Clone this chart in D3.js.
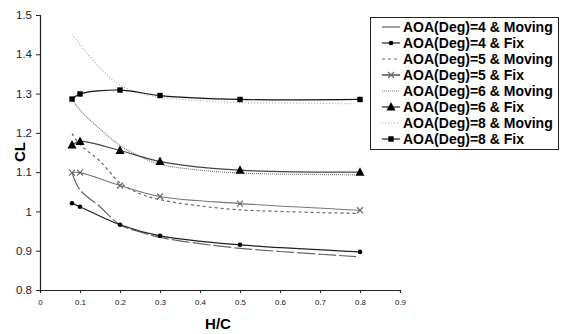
<!DOCTYPE html>
<html>
<head>
<meta charset="utf-8">
<script src="https://cdn.jsdelivr.net/npm/d3@7"></script>
<style>
  body { margin: 0; background: #fff; }
  text { font-family: "Liberation Sans", Arial, sans-serif; }
</style>
</head>
<body>
<svg id="chart" width="563" height="334"></svg>
<script>
// x positions of the measured (Fix) points
var fixX = [0.08, 0.1, 0.2, 0.3, 0.5, 0.8];
var fix4 = [1.021, 1.012, 0.966, 0.938, 0.915, 0.897];
var fix5 = [1.099, 1.099, 1.066, 1.038, 1.02, 1.003];
var fix6 = [1.169, 1.178, 1.155, 1.127, 1.105, 1.10];
var fix8 = [1.286, 1.299, 1.309, 1.295, 1.285, 1.285];

// moving curves
var movX = [0.08, 0.1, 0.15, 0.2, 0.25, 0.3, 0.4, 0.5, 0.6, 0.7, 0.79];
var mov4 = [1.098, 1.055, 1.012, 0.966, 0.948, 0.934, 0.918, 0.906, 0.898, 0.891, 0.885];
var mov5 = [1.198, 1.17, 1.128, 1.073, 1.045, 1.03, 1.014, 1.004, 1.0, 0.997, 0.995];
var mov6 = [1.286, 1.258, 1.21, 1.168, 1.14, 1.12, 1.105, 1.098, 1.095, 1.094, 1.093];
var mov8 = [1.452, 1.425, 1.365, 1.322, 1.30, 1.291, 1.282, 1.277, 1.276, 1.275, 1.274];

var seriesNames = ["AOA(Deg)=4 & Moving", "AOA(Deg)=4 & Fix", "AOA(Deg)=5 & Moving", "AOA(Deg)=5 & Fix",
                   "AOA(Deg)=6 & Moving", "AOA(Deg)=6 & Fix", "AOA(Deg)=8 & Moving", "AOA(Deg)=8 & Fix"];
var xTicks = [0, 0.1, 0.2, 0.3, 0.4, 0.5, 0.6, 0.7, 0.8, 0.9];
var yTicks = [0.8, 0.9, 1, 1.1, 1.2, 1.3, 1.4, 1.5];

var series = [
  {name: seriesNames[0], xs: movX, ys: mov4, color: "#666", dash: "18,3", marker: null},
  {name: seriesNames[1], xs: fixX, ys: fix4, color: "#222", dash: null, marker: "dot"},
  {name: seriesNames[2], xs: movX, ys: mov5, color: "#666", dash: "3,3", marker: null},
  {name: seriesNames[3], xs: fixX, ys: fix5, color: "#777", dash: null, marker: "x"},
  {name: seriesNames[4], xs: movX, ys: mov6, color: "#777", dash: "1,1", marker: null},
  {name: seriesNames[5], xs: fixX, ys: fix6, color: "#444", dash: null, marker: "tri"},
  {name: seriesNames[6], xs: movX, ys: mov8, color: "#aaa", dash: "1,2", marker: null},
  {name: seriesNames[7], xs: fixX, ys: fix8, color: "#111", dash: null, marker: "sq"}
];

var svg = d3.select("#chart");
var x = d3.scaleLinear().domain([0, 0.9]).range([40, 400]);
var y = d3.scaleLinear().domain([0.8, 1.5]).range([290, 15]);

// axes
var yAxis = svg.append("g").attr("transform", "translate(40,0)")
  .call(d3.axisLeft(y).tickValues(yTicks).tickSize(4).tickPadding(4).tickFormat(d => String(+d.toFixed(1))));
yAxis.selectAll("text").style("font-size", "11.5px").attr("fill", "#222");
var xAxis = svg.append("g").attr("transform", "translate(0,290)")
  .call(d3.axisBottom(x).tickValues(xTicks).tickSize(3).tickPadding(6).tickFormat(d => String(+d.toFixed(1))));
xAxis.selectAll("text").style("font-size", "8px").attr("fill", "#222");
svg.selectAll(".domain").attr("stroke", "#222").attr("stroke-width", 1.2);
svg.selectAll(".tick line").attr("stroke", "#222");

// axis titles
svg.append("text").attr("x", 218).attr("y", 329).attr("text-anchor", "middle")
  .style("font-size", "15px").style("font-weight", "bold").text("H/C");
svg.append("text").attr("transform", "translate(25,152) rotate(-90)").attr("text-anchor", "middle")
  .style("font-size", "15px").style("font-weight", "bold").text("CL");

var line = d3.line().x(d => x(d[0])).y(d => y(d[1])).curve(d3.curveCatmullRom.alpha(0.5));

function drawMarker(g, type, cx, cy, color) {
  if (type === "dot") {
    g.append("circle").attr("cx", cx).attr("cy", cy).attr("r", 2.3).attr("fill", "#000");
  } else if (type === "x") {
    g.append("path").attr("d", `M${cx-3},${cy-3}L${cx+3},${cy+3}M${cx-3},${cy+3}L${cx+3},${cy-3}`)
      .attr("stroke", "#666").attr("stroke-width", 1.1);
  } else if (type === "tri") {
    g.append("path").attr("d", `M${cx},${cy-5}L${cx+4.5},${cy+3.5}L${cx-4.5},${cy+3.5}Z`).attr("fill", "#000");
  } else if (type === "sq") {
    g.append("rect").attr("x", cx-2.7).attr("y", cy-2.7).attr("width", 5.4).attr("height", 5.4).attr("fill", "#000");
  }
}

var plot = svg.append("g");
series.forEach(function(s) {
  var pts = s.xs.map((v, i) => [v, s.ys[i]]);
  plot.append("path").datum(pts).attr("d", line)
    .attr("fill", "none").attr("stroke", s.color).attr("stroke-width", 1.2)
    .attr("stroke-dasharray", s.dash);
});
series.forEach(function(s) {
  if (!s.marker) return;
  s.xs.forEach((v, i) => drawMarker(plot, s.marker, x(v), y(s.ys[i]), s.color));
});

// legend
var lg = svg.append("g");
lg.append("rect").attr("x", 370.5).attr("y", 17.5).attr("width", 188).attr("height", 132)
  .attr("fill", "#fff").attr("stroke", "#222").attr("stroke-width", 1);
series.forEach(function(s, i) {
  var ly = 27 + i * 16;
  lg.append("line").attr("x1", 382).attr("x2", 400).attr("y1", ly).attr("y2", ly)
    .attr("stroke", s.marker ? "#222" : s.color).attr("stroke-width", 1.2).attr("stroke-dasharray", s.dash);
  if (s.marker) drawMarker(lg, s.marker, 391, ly, s.color);
  lg.append("text").attr("x", 403).attr("y", ly + 5)
    .style("font-size", "14px").style("font-weight", "bold").text(s.name);
});
</script>
</body>
</html>
